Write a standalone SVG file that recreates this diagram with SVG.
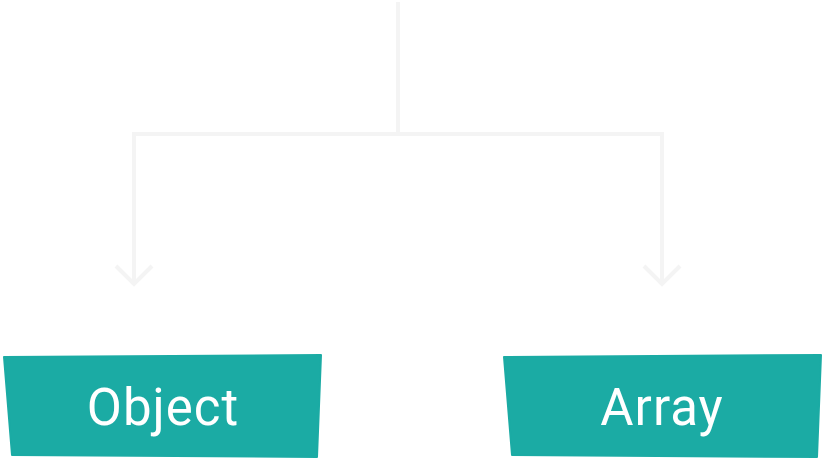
<svg xmlns="http://www.w3.org/2000/svg" width="828" height="465" viewBox="0 0 828 465">
<style>
.conn{fill:none;stroke:#f4f4f4;stroke-width:4;stroke-linecap:butt;stroke-linejoin:miter}
.box{fill:#1babA4;stroke:#1baba4;stroke-width:2;stroke-linejoin:round}
.lbl{fill:#ffffff;font-family:Roboto,"Liberation Sans",sans-serif;font-size:51px;font-weight:400;text-anchor:middle;letter-spacing:1px}
</style>
<rect width="828" height="465" fill="#ffffff"/>
<g id="connectors">
<path class="conn" d="M398 2 V134"/>
<path class="conn" d="M134 284 V134 H662 V284"/>
<path class="conn" d="M116 266 L134 284 L152 266"/>
<path class="conn" d="M644 266 L662 284 L680 266"/>
</g>
<g id="node-object">
<polygon class="box" points="4,357 321,355 317,457 12,455"/>
<text class="lbl" x="163" y="425">Object</text>
</g>
<g id="node-array">
<polygon class="box" points="504,357 821,355 817,457 512,455"/>
<text class="lbl" x="662" y="425">Array</text>
</g>
</svg>
